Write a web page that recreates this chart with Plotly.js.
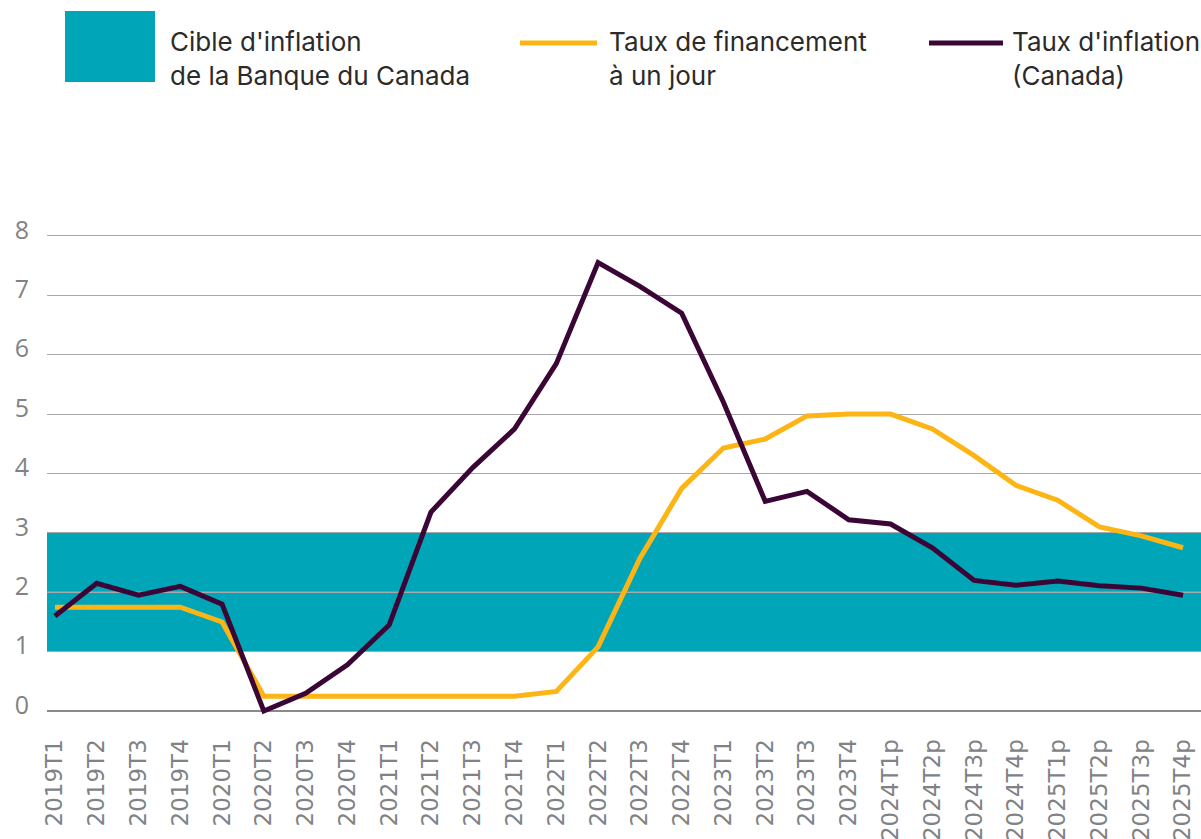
<!DOCTYPE html>
<html>
<head>
<meta charset="utf-8">
<script src="https://cdn.plot.ly/plotly-3.0.1.min.js"></script>
<style>html,body{margin:0;padding:0;background:#fff;}#chart{width:1201px;height:839px;}</style>
</head>
<body>
<div id="chart"></div>
<script>
const quarters = ["2019T1","2019T2","2019T3","2019T4","2020T1","2020T2","2020T3","2020T4",
  "2021T1","2021T2","2021T3","2021T4","2022T1","2022T2","2022T3","2022T4",
  "2023T1","2023T2","2023T3","2023T4","2024T1p","2024T2p","2024T3p","2024T4p",
  "2025T1p","2025T2p","2025T3p","2025T4p"];
const overnightRate = [1.75,1.75,1.75,1.75,1.5,0.25,0.25,0.25,
  0.25,0.25,0.25,0.25,0.33,1.08,2.57,3.75,
  4.43,4.58,4.97,5.0,5.0,4.75,4.3,3.8,
  3.55,3.1,2.95,2.75];
const inflationRate = [1.6,2.15,1.95,2.1,1.8,0.0,0.3,0.78,
  1.45,3.35,4.1,4.75,5.85,7.55,7.15,6.7,
  5.2,3.53,3.7,3.22,3.15,2.75,2.2,2.12,
  2.19,2.11,2.07,1.95];
const targetBand = [1, 3];
const yTicks = [0,1,2,3,4,5,6,7,8];
const seriesNames = ["Cible d'inflation<br>de la Banque du Canada", "Taux de financement<br>à un jour", "Taux d'inflation<br>(Canada)"];

const W = 1201, H = 839;
const mL = 47, mR = 0, mT = 230, mB = 122;
const pw = W - mL - mR, ph = H - mT - mB;
const px = x => (x - mL) / pw;
const py = y => (H - mB - y) / ph;

const teal = '#00A5B8', orange = '#FDB515', purple = '#3A0636';

const traces = [
  {x: quarters, y: overnightRate, type: 'scatter', mode: 'lines', name: seriesNames[1],
   line: {color: orange, width: 5}, showlegend: false, hoverinfo: 'x+y'},
  {x: quarters, y: inflationRate, type: 'scatter', mode: 'lines', name: seriesNames[2],
   line: {color: purple, width: 5}, showlegend: false, hoverinfo: 'x+y'}
];

const textFont = {family: 'Inter', size: 26, color: '#2b2b2b'};
const layout = {
  width: W, height: H,
  margin: {l: mL, r: mR, t: mT, b: mB, pad: 0},
  paper_bgcolor: '#fff', plot_bgcolor: '#fff',
  showlegend: false,
  xaxis: {
    type: 'category', range: [-0.19, 27.43],
    showgrid: false, zeroline: false, showline: false,
    tickangle: -90, ticks: 'outside', ticklen: 12, tickcolor: 'rgba(0,0,0,0)',
    tickfont: {family: 'DejaVu Sans', size: 23, color: '#808285'}
  },
  yaxis: {
    range: [-0.1, 8.1], tickvals: yTicks, ticktext: yTicks.map(String),
    showgrid: true, gridcolor: '#a7a9ac', gridwidth: 1,
    zeroline: true, zerolinecolor: '#8a8a8a', zerolinewidth: 2,
    showline: false, ticks: 'outside', ticklen: 12, tickcolor: 'rgba(0,0,0,0)',
    ticklabelshift: -6,
    tickfont: {family: 'Open Sans', size: 25, color: '#808285'}
  },
  shapes: [
    {type: 'rect', xref: 'paper', yref: 'y', x0: 0, x1: 1, y0: targetBand[0], y1: targetBand[1],
     fillcolor: teal, line: {width: 0}, layer: 'below'},
    {type: 'line', xref: 'paper', yref: 'y', x0: 0, x1: 1, y0: (targetBand[0]+targetBand[1])/2, y1: (targetBand[0]+targetBand[1])/2,
     line: {color: 'rgba(255,255,255,0.75)', width: 1}, layer: 'between'},
    {type: 'rect', xref: 'paper', yref: 'paper', x0: px(65), x1: px(155), y0: py(82), y1: py(11),
     fillcolor: teal, line: {width: 0}},
    {type: 'line', xref: 'paper', yref: 'paper', x0: px(520), x1: px(597), y0: py(43), y1: py(43),
     line: {color: orange, width: 5}},
    {type: 'line', xref: 'paper', yref: 'paper', x0: px(929), x1: px(1003), y0: py(43), y1: py(43),
     line: {color: purple, width: 5}}
  ],
  annotations: [
    {xref: 'paper', yref: 'paper', x: px(168), y: py(24), xanchor: 'left', yanchor: 'top', align: 'left',
     text: seriesNames[0], showarrow: false, font: textFont},
    {xref: 'paper', yref: 'paper', x: px(607), y: py(24), xanchor: 'left', yanchor: 'top', align: 'left',
     text: seriesNames[1], showarrow: false, font: textFont},
    {xref: 'paper', yref: 'paper', x: px(1010), y: py(24), xanchor: 'left', yanchor: 'top', align: 'left',
     text: seriesNames[2], showarrow: false, font: textFont}
  ]
};

Plotly.newPlot('chart', traces, layout, {displayModeBar: false, staticPlot: true});
</script>
</body>
</html>
